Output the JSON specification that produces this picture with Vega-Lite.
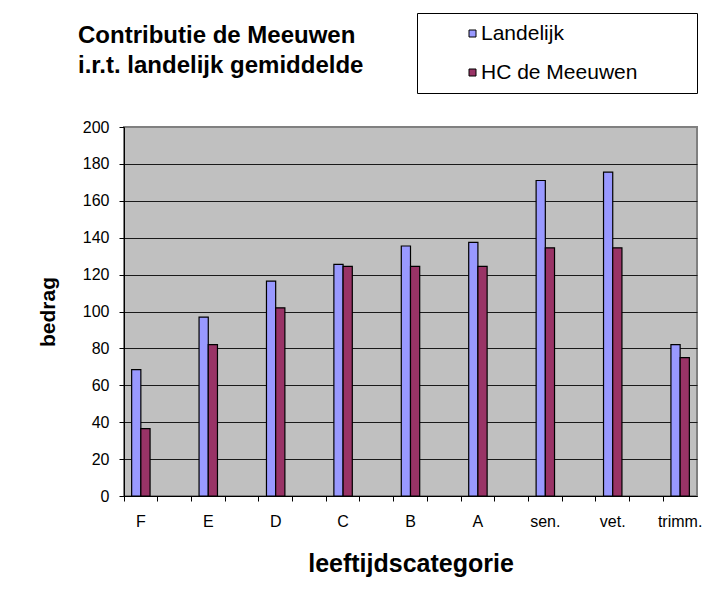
{
  "$schema": "https://vega.github.io/schema/vega-lite/v6.json",
  "width": 573,
  "height": 369,
  "autosize": {"type": "none"},
  "padding": {"left": 124, "top": 127, "right": 26, "bottom": 107},
  "background": "white",
  "title": {
    "text": ["Contributie de Meeuwen", "i.r.t. landelijk gemiddelde"],
    "anchor": "start",
    "frame": "group",
    "dx": -46,
    "offset": -65,
    "font": "Liberation Sans",
    "fontSize": 24,
    "fontWeight": "bold",
    "lineHeight": 30,
    "color": "black"
  },
  "data": {
    "values": [
      {"categorie": "F", "reeks": "Landelijk", "bedrag": 68.5},
      {"categorie": "F", "reeks": "HC de Meeuwen", "bedrag": 36.5},
      {"categorie": "E", "reeks": "Landelijk", "bedrag": 97},
      {"categorie": "E", "reeks": "HC de Meeuwen", "bedrag": 82},
      {"categorie": "D", "reeks": "Landelijk", "bedrag": 116.5},
      {"categorie": "D", "reeks": "HC de Meeuwen", "bedrag": 102},
      {"categorie": "C", "reeks": "Landelijk", "bedrag": 125.5},
      {"categorie": "C", "reeks": "HC de Meeuwen", "bedrag": 124.5},
      {"categorie": "B", "reeks": "Landelijk", "bedrag": 135.5},
      {"categorie": "B", "reeks": "HC de Meeuwen", "bedrag": 124.5},
      {"categorie": "A", "reeks": "Landelijk", "bedrag": 137.5},
      {"categorie": "A", "reeks": "HC de Meeuwen", "bedrag": 124.5},
      {"categorie": "sen.", "reeks": "Landelijk", "bedrag": 171},
      {"categorie": "sen.", "reeks": "HC de Meeuwen", "bedrag": 134.5},
      {"categorie": "vet.", "reeks": "Landelijk", "bedrag": 175.5},
      {"categorie": "vet.", "reeks": "HC de Meeuwen", "bedrag": 134.5},
      {"categorie": "trimm.", "reeks": "Landelijk", "bedrag": 82},
      {"categorie": "trimm.", "reeks": "HC de Meeuwen", "bedrag": 75}
    ]
  },
  "mark": {"type": "bar", "stroke": "black", "strokeWidth": 1.2},
  "encoding": {
    "x": {
      "field": "categorie",
      "type": "nominal",
      "title": "leeftijdscategorie",
      "scale": {
        "domain": ["F", "_1", "E", "_2", "D", "_3", "C", "_4", "B", "_5", "A", "_6", "sen.", "_7", "vet.", "_8", "trimm."],
        "paddingInner": 0,
        "paddingOuter": 0
      },
      "axis": {
        "labelExpr": "indexof(datum.value, '_') === 0 ? '' : datum.value",
        "labelAngle": 0,
        "bandPosition": 0,
        "tickSize": 5,
        "labelPadding": 12,
        "labelFont": "Liberation Sans",
        "labelFontSize": 16,
        "titleFont": "Liberation Sans",
        "titleFontSize": 25,
        "titleFontWeight": "bold",
        "titlePadding": 22,
        "grid": false
      }
    },
    "xOffset": {
      "field": "reeks",
      "type": "nominal",
      "scale": {"domain": ["Landelijk", "HC de Meeuwen"], "paddingInner": 0, "paddingOuter": 0.83}
    },
    "y": {
      "field": "bedrag",
      "type": "quantitative",
      "title": "bedrag",
      "scale": {"domain": [0, 200], "nice": false},
      "axis": {
        "values": [0, 20, 40, 60, 80, 100, 120, 140, 160, 180, 200],
        "grid": true,
        "gridColor": {"condition": {"test": "datum.value === 200", "value": "#808080"}, "value": "#1a1a1a"},
        "gridWidth": 1,
        "tickSize": 5,
        "labelPadding": 10,
        "labelFont": "Liberation Sans",
        "labelFontSize": 16,
        "titleFont": "Liberation Sans",
        "titleFontSize": 21,
        "titleFontWeight": "bold",
        "titlePadding": 24
      }
    },
    "color": {
      "field": "reeks",
      "type": "nominal",
      "scale": {"domain": ["Landelijk", "HC de Meeuwen"], "range": ["#9999FF", "#993366"]},
      "legend": {
        "orient": "none",
        "legendX": 293,
        "legendY": -114,
        "title": " ",
        "titleOrient": "right",
        "titleFontSize": 1,
        "titlePadding": 50,
        "strokeColor": "black",
        "fillColor": "white",
        "padding": 10,
        "symbolType": "square",
        "symbolSize": 49,
        "symbolStrokeColor": "black",
        "symbolStrokeWidth": 1,
        "symbolOffset": 35,
        "labelOffset": -2,
        "labelFont": "Liberation Sans",
        "labelFontSize": 21,
        "labelColor": "black",
        "rowPadding": 17
      }
    }
  },
  "config": {
    "view": {"fill": "#C0C0C0", "stroke": "#808080", "strokeWidth": 2},
    "axis": {
      "domainColor": "black",
      "domainWidth": 1,
      "tickColor": "black",
      "labelColor": "black",
      "titleColor": "black"
    }
  }
}
